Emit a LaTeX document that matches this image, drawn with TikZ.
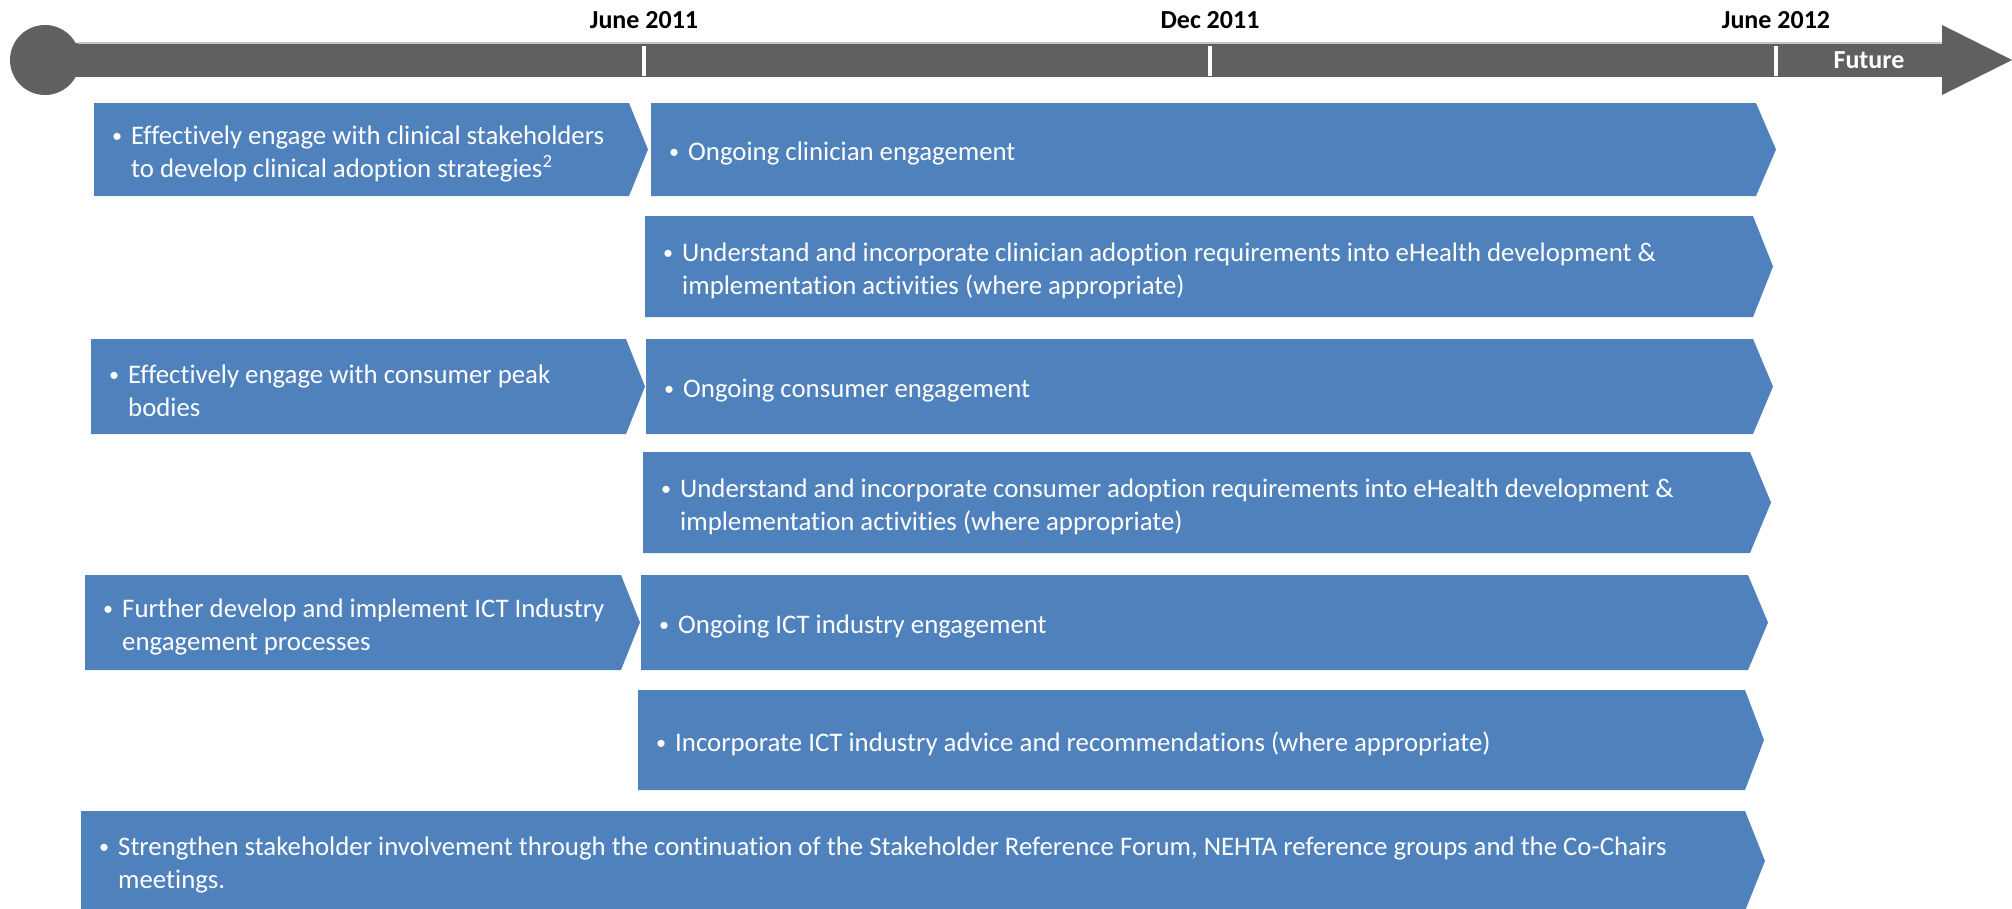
\documentclass[tikz,border=0pt]{standalone}
\usepackage{fontspec}
\setmainfont{Carlito}[Ligatures=CommonOff]
\usepackage{graphicx}
\usepackage{tikz}
\usetikzlibrary{calc}
\definecolor{RoadmapBlue}{HTML}{4F81BD}
\definecolor{RoadmapGrey}{HTML}{606060}
\definecolor{RoadmapEdge}{HTML}{C4C4C4}
\newcommand{\rmBullet}{\makebox[19pt][l]{\raisebox{2pt}{\scalebox{0.75}{\textbullet}}}}
\newcommand{\rmIndent}{\hspace*{19pt}}
\tikzset{
  phase/.style={fill=RoadmapBlue},
  phasetext/.style={anchor=west,text=white,align=left,
    inner xsep=18pt,inner ysep=0pt,yshift=-4pt,
    font=\fontsize{26.8}{33}\selectfont},
  datelabel/.style={anchor=base,font=\bfseries\fontsize{26}{30}\selectfont},
  tick/.style={white,line width=3.5pt}
}

\begin{document}
\begin{tikzpicture}[x=1pt,y=-1pt]
  \useasboundingbox (0,0) rectangle (2012,908);

  % timeline
  \fill[RoadmapGrey] (45,43) rectangle (1942,77);
  \draw[RoadmapEdge,line width=1.5pt] (78,43) -- (1942,43);
  \fill[RoadmapGrey] (45,60) circle[radius=35pt];
  \fill[RoadmapGrey] (1942,25) -- (2012,60) -- (1942,95) -- cycle;

  \foreach \x/\lbl/\nm in {644/June 2011/jun11,1210/Dec 2011/dec11,1776/June 2012/jun12}{
    \draw[tick] (\x,46) -- (\x,76);
    \node[datelabel] (\nm) at (\x,28) {\lbl};
  }
  \node[text=white,font=\bfseries\fontsize{26}{30}\selectfont] (future) at (1869,60) {Future};

  % clinicians
  \fill[phase] (94,103) -- (629,103) -- (648,149.5) -- (629,196) -- (94,196) -- cycle;
  \node[phasetext] (clinEngage) at (94,149.5)
    {\rmBullet Effectively engage with clinical stakeholders\\
     \rmIndent to develop clinical adoption strategies\textsuperscript{2}};

  \fill[phase] (651,103) -- (1756,103) -- (1776,149.5) -- (1756,196) -- (651,196) -- cycle;
  \node[phasetext] (clinOngoing) at (651,149.5) {\rmBullet Ongoing clinician engagement};

  \fill[phase] (645,216) -- (1753,216) -- (1773,266.5) -- (1753,317) -- (645,317) -- cycle;
  \node[phasetext] (clinAdopt) at (645,266.5)
    {\rmBullet Understand and incorporate clinician adoption requirements into eHealth development \&\\
     \rmIndent implementation activities (where appropriate)};

  % consumers
  \fill[phase] (91,339) -- (626,339) -- (645,386.5) -- (626,434) -- (91,434) -- cycle;
  \node[phasetext] (consEngage) at (91,386.5)
    {\rmBullet Effectively engage with consumer peak\\
     \rmIndent bodies};

  \fill[phase] (646,339) -- (1753,339) -- (1773,386.5) -- (1753,434) -- (646,434) -- cycle;
  \node[phasetext] (consOngoing) at (646,386.5) {\rmBullet Ongoing consumer engagement};

  \fill[phase] (643,452) -- (1750,452) -- (1771,502.5) -- (1750,553) -- (643,553) -- cycle;
  \node[phasetext] (consAdopt) at (643,502.5)
    {\rmBullet Understand and incorporate consumer adoption requirements into eHealth development \&\\
     \rmIndent implementation activities (where appropriate)};

  % ICT industry
  \fill[phase] (85,575) -- (621,575) -- (640,622.5) -- (621,670) -- (85,670) -- cycle;
  \node[phasetext] (ictEngage) at (85,622.5)
    {\rmBullet Further develop and implement ICT Industry\\
     \rmIndent engagement processes};

  \fill[phase] (641,575) -- (1748,575) -- (1768,622.5) -- (1748,670) -- (641,670) -- cycle;
  \node[phasetext] (ictOngoing) at (641,622.5) {\rmBullet Ongoing ICT industry engagement};

  \fill[phase] (638,690) -- (1745,690) -- (1764,740) -- (1745,790) -- (638,790) -- cycle;
  \node[phasetext] (ictAdvice) at (638,740)
    {\rmBullet Incorporate ICT industry advice and recommendations (where appropriate)};

  % forum
  \fill[phase] (81,811) -- (1745,811) -- (1765,861) -- (1745,911) -- (81,911) -- cycle;
  \node[phasetext] (forum) at (81,861)
    {\rmBullet Strengthen stakeholder involvement through the continuation of the Stakeholder Reference Forum, NEHTA reference groups and the Co-Chairs\\
     \rmIndent meetings.};
\end{tikzpicture}
\end{document}
